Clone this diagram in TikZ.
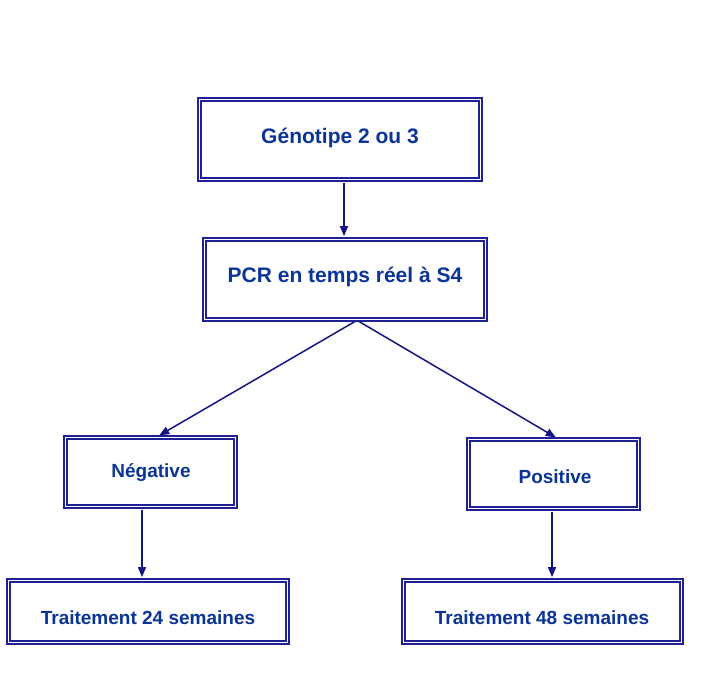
\documentclass[tikz,border=0pt]{standalone}
\usepackage{fontspec}
\setmainfont{Liberation Sans}
\usetikzlibrary{arrows.meta}
\definecolor{boxblue}{RGB}{32,32,150}
\definecolor{txtblue}{RGB}{10,52,150}
\definecolor{arrowblue}{RGB}{20,20,130}
\tikzset{
  dbox/.style={draw=boxblue, double=white, double distance=1.6pt, line width=1.8pt, fill=white, inner sep=0pt},
  bigtxt/.style={text=txtblue, font=\fontsize{21}{25}\selectfont\bfseries, inner sep=0pt},
  smtxt/.style={text=txtblue, font=\fontsize{19}{23}\selectfont\bfseries, inner sep=0pt},
  conn/.style={draw=arrowblue, line width=1.5pt, -{Triangle[length=10pt,width=8pt]}, shorten >=2.6pt, shorten <=2.6pt}
}
\begin{document}
\begin{tikzpicture}[x=1pt,y=-1pt]
\useasboundingbox (0,0) rectangle (703,674);
\node[dbox, minimum width=280.8pt, minimum height=79.8pt] (b1) at (340,139.5) {};
\node[bigtxt] (t1) at (340,138) {Génotipe 2 ou 3};
\node[dbox, minimum width=280.8pt, minimum height=79.8pt] (b2) at (345,279.5) {};
\node[bigtxt] (t2) at (345,277) {PCR en temps réel à S4};
\node[dbox, minimum width=169.8pt, minimum height=68.8pt] (b3) at (150.5,472) {};
\node[smtxt] (t3) at (151,473) {Négative};
\node[dbox, minimum width=169.8pt, minimum height=68.8pt] (b4) at (553.5,474) {};
\node[smtxt] (t4) at (555,477) {Positive};
\node[dbox, minimum width=278.8pt, minimum height=61.8pt] (b5) at (148,611.5) {};
\node[smtxt] (t5) at (148,618) {Traitement 24 semaines};
\node[dbox, minimum width=277.8pt, minimum height=61.8pt] (b6) at (542.5,611.5) {};
\node[smtxt] (t6) at (542,618) {Traitement 48 semaines};
\draw[conn] ([xshift=4pt]b1.south) -- ([xshift=4pt]b1.south |- b2.north);
\draw[conn] ([xshift=12pt]b2.south) -- ([xshift=6.5pt]b3.north);
\draw[conn] ([xshift=12pt]b2.south) -- ([xshift=4.5pt]b4.north);
\draw[conn] ([xshift=-8.5pt]b3.south) -- ([xshift=-8.5pt]b3.south |- b5.north);
\draw[conn] ([xshift=-1.5pt]b4.south) -- ([xshift=-1.5pt]b4.south |- b6.north);
\end{tikzpicture}
\end{document}
